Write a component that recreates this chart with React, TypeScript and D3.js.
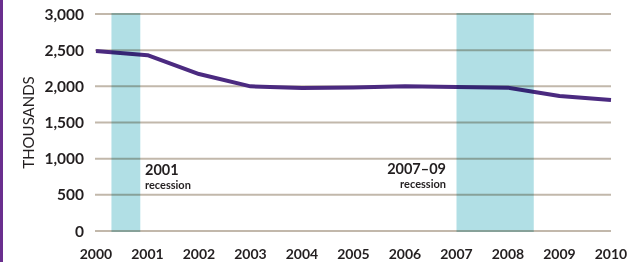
import React, { useEffect, useRef } from 'react';
import * as d3 from 'd3';

const years = [2000, 2001, 2002, 2003, 2004, 2005, 2006, 2007, 2008, 2009, 2010];
const values = [2490, 2430, 2170, 2000, 1978, 1985, 2000, 1990, 1982, 1865, 1810];
const yTicks = [0, 500, 1000, 1500, 2000, 2500, 3000];
// shaded recession periods, as fractional years on the x axis
const recessionStart = [2000.3, 2007.0];
const recessionEnd = [2000.86, 2008.5];

const W = 640;
const H = 262;
const margin = { top: 14, right: 29, bottom: 31, left: 96 };

export default function App() {
  const ref = useRef<SVGSVGElement>(null);

  useEffect(() => {
    const svg = d3.select(ref.current);
    svg.selectAll('*').remove();
    const font = 'Lato, "Open Sans", sans-serif';

    const x = d3.scaleLinear()
      .domain([2000, 2010])
      .range([margin.left, W - margin.right]);
    const y = d3.scaleLinear()
      .domain([0, 3000])
      .range([H - margin.bottom, margin.top]);

    // purple rule on the left edge
    svg.append('rect')
      .attr('x', 0).attr('y', 0)
      .attr('width', 3).attr('height', H)
      .attr('fill', '#6a2f8e');

    // gridlines
    svg.append('g')
      .selectAll('line')
      .data(yTicks)
      .enter()
      .append('line')
      .attr('x1', x(2000) - 1)
      .attr('x2', x(2010))
      .attr('y1', d => y(d))
      .attr('y2', d => y(d))
      .attr('stroke', '#c2b8ab')
      .attr('stroke-width', 2);

    // y tick labels
    svg.append('g')
      .selectAll('text')
      .data(yTicks)
      .enter()
      .append('text')
      .attr('x', 84)
      .attr('y', d => y(d) + 5.5)
      .attr('text-anchor', 'end')
      .attr('font-family', font)
      .attr('font-weight', 700)
      .attr('font-size', 15.5)
      .attr('fill', '#231f20')
      .text(d => d3.format(',')(d));

    // x tick labels
    svg.append('g')
      .selectAll('text')
      .data(years)
      .enter()
      .append('text')
      .attr('x', d => x(d))
      .attr('y', 259)
      .attr('text-anchor', 'middle')
      .attr('font-family', font)
      .attr('font-weight', 700)
      .attr('font-size', 14)
      .attr('fill', '#231f20')
      .text(d => String(d));

    // axis title
    svg.append('text')
      .attr('transform', 'translate(34,' + y(1500) + ')rotate(-90)')
      .attr('text-anchor', 'middle')
      .attr('font-family', font)
      .attr('font-size', 15)
      .attr('fill', '#231f20')
      .text('THOUSANDS');

    // line
    const line = d3.line<number>()
      .x((d, i) => x(years[i]))
      .y(d => y(d));
    svg.append('path')
      .datum(values)
      .attr('d', line)
      .attr('fill', 'none')
      .attr('stroke', '#4b2a80')
      .attr('stroke-width', 4)
      .attr('stroke-linejoin', 'round');

    // recession bands, multiplied over gridlines and line
    svg.append('g')
      .selectAll('rect')
      .data(recessionStart)
      .enter()
      .append('rect')
      .attr('x', d => x(d))
      .attr('width', (d, i) => x(recessionEnd[i]) - x(d))
      .attr('y', y(3000) - 1)
      .attr('height', y(0) - y(3000) + 2)
      .attr('fill', '#b1dfe5')
      .style('mix-blend-mode', 'multiply');

    // annotations
    const ann = svg.append('g')
      .attr('font-family', font)
      .attr('font-weight', 700)
      .attr('fill', '#231f20');
    ann.append('text').attr('x', 145).attr('y', 175).attr('font-size', 14.5).text('2001');
    ann.append('text').attr('x', 145).attr('y', 189).attr('font-size', 11).text('recession');
    ann.append('text').attr('x', 446).attr('y', 174).attr('text-anchor', 'end').attr('font-size', 14.5).text('2007–09');
    ann.append('text').attr('x', 446).attr('y', 188).attr('text-anchor', 'end').attr('font-size', 11).text('recession');
  }, []);

  return (
    <svg ref={ref} width={W} height={H}
      style={{ position: 'absolute', left: 0, top: 0, background: '#fff' }} />
  );
}
